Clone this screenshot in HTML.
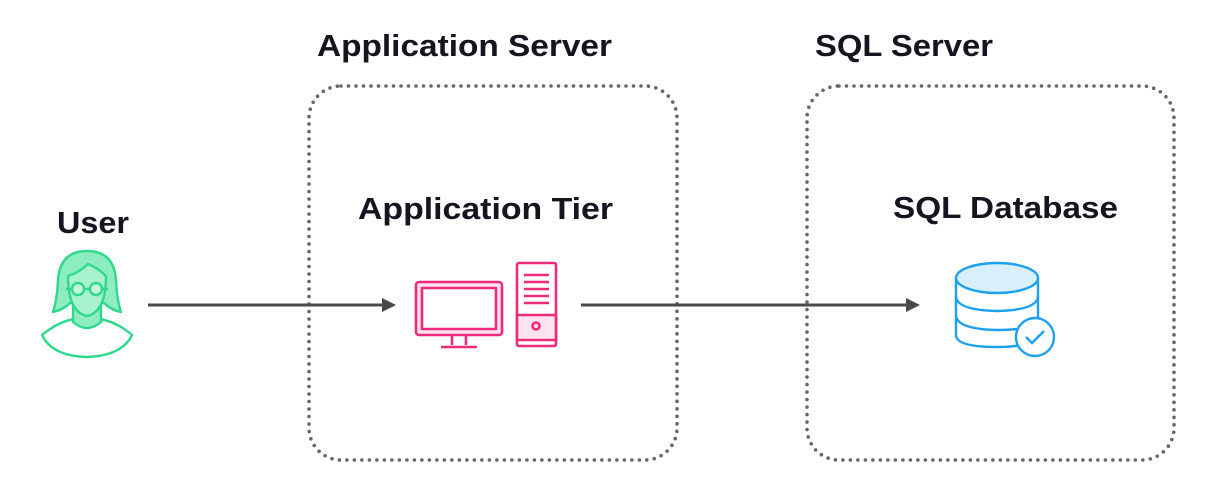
<!DOCTYPE html>
<html><head><style>
html,body{margin:0;padding:0;background:#fff;}
svg{display:block;}
text{font-family:"Liberation Sans",sans-serif;font-weight:bold;fill:#15141f;}
</style></head><body>
<svg width="1227" height="501" viewBox="0 0 1227 501" xmlns="http://www.w3.org/2000/svg">
<rect x="309" y="86" width="368" height="374" rx="32" fill="none" stroke="#666" stroke-width="3.6" stroke-linecap="round" stroke-dasharray="0 7.5"/>
<rect x="807" y="86" width="367" height="374" rx="32" fill="none" stroke="#666" stroke-width="3.6" stroke-linecap="round" stroke-dasharray="0 7.5"/>
<text x="317" y="56" font-size="31" textLength="295" lengthAdjust="spacingAndGlyphs">Application Server</text>
<text x="815" y="56" font-size="31" textLength="178" lengthAdjust="spacingAndGlyphs">SQL Server</text>
<text x="57" y="233" font-size="31" textLength="72" lengthAdjust="spacingAndGlyphs">User</text>
<text x="358" y="219" font-size="31" textLength="255" lengthAdjust="spacingAndGlyphs">Application Tier</text>
<text x="893" y="218" font-size="31" textLength="225" lengthAdjust="spacingAndGlyphs">SQL Database</text>
<line x1="148" y1="305" x2="384" y2="305" stroke="#4a4a4a" stroke-width="3"/>
<polygon points="396,305 382,298 382,312" fill="#4a4a4a"/>
<line x1="581" y1="305" x2="908" y2="305" stroke="#4a4a4a" stroke-width="3"/>
<polygon points="920,305 906,298 906,312" fill="#4a4a4a"/>
<g stroke="#2fd98c" stroke-width="2.4" stroke-linejoin="round" fill="#8eedc0">
<path d="M42,335 Q60,320 80,318 L93,318 Q115,320 132,335 Q122,356 87,357 Q52,356 42,335 Z" fill="#fff"/>
<path d="M73,305 L73,322 Q87,334 101,322 L101,305 Z"/>
<path d="M87,251 Q60,251 58,280 Q57,300 53,312 Q63,310 70,303 L104,303 Q111,310 121,312 Q117,300 116,280 Q114,251 87,251 Z"/>
<path d="M68,276 Q68,312 87,316 Q106,312 106,276 Q98,268 88,264 Q80,272 68,276 Z" fill="#a8f2cf"/>
<circle cx="78" cy="289" r="6" fill="#c5f7df"/>
<circle cx="96" cy="289" r="6" fill="#c5f7df"/>
<path d="M84,289 L90,289 M66,289 L72,289 M102,289 L108,289" fill="none"/>
</g>
<g stroke="#ee2a7b" stroke-width="2.6" fill="none" stroke-linejoin="round">
<rect x="416" y="282" width="86" height="53" rx="3" fill="#fde3ee"/>
<rect x="422" y="288" width="74" height="41" fill="#fff"/>
<path d="M452,335 L452,345 M466,335 L466,345" />
<line x1="441" y1="347" x2="477" y2="347"/>
<rect x="517" y="263" width="39" height="83" rx="2" fill="#fff"/>
<rect x="517" y="315" width="39" height="25" fill="#fde3ee"/>
<line x1="524" y1="275" x2="549" y2="275"/>
<line x1="524" y1="282" x2="549" y2="282"/>
<line x1="524" y1="289" x2="549" y2="289"/>
<line x1="524" y1="296" x2="549" y2="296"/>
<line x1="524" y1="303" x2="549" y2="303"/>
<circle cx="536" cy="326" r="3.5"/>
</g>
<g stroke="#1ea0f0" stroke-width="2.4" fill="none">
<path d="M956,278 L956,335 Q956,347 997,347 Q1015,347 1025,344"/>
<path d="M1038,278 L1038,318"/>
<ellipse cx="997" cy="278" rx="41" ry="15" fill="#d8effd"/>
<path d="M956,296 Q956,310 997,311 Q1038,310 1038,296"/>
<path d="M956,315 Q956,329 997,330 Q1010,330 1017,329"/>
<circle cx="1035" cy="337" r="19" fill="#fff"/>
<path d="M1026,337 L1032,343 L1044,331"/>
</g>
</svg>
</body></html>
